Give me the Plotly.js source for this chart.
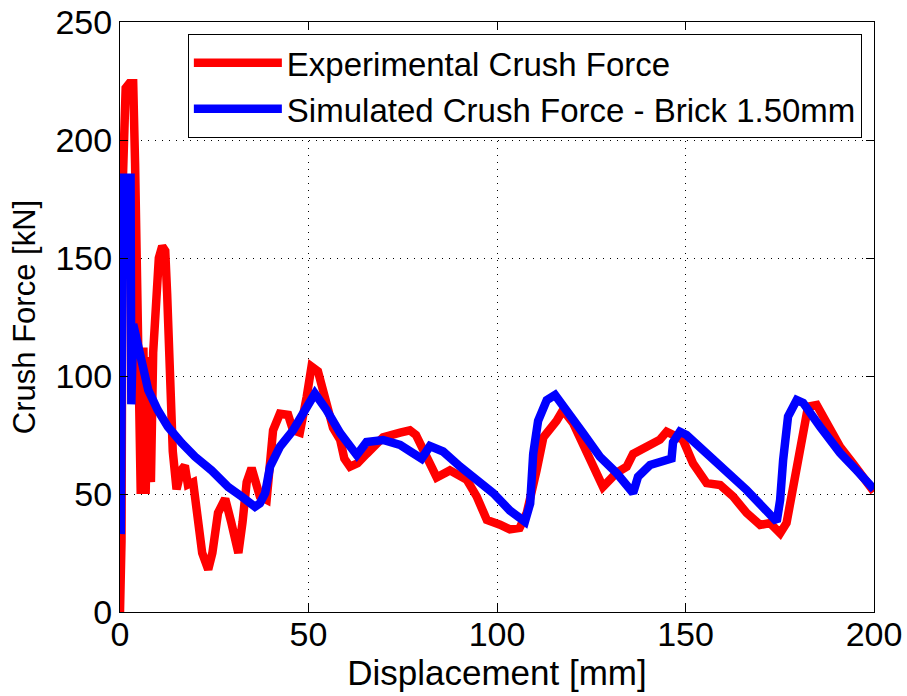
<!DOCTYPE html>
<html>
<head>
<meta charset="utf-8">
<script src="https://cdn.plot.ly/plotly-3.0.1.min.js"></script>
<style>
  html, body { margin: 0; padding: 0; background: #ffffff; }
  #chart { width: 907px; height: 696px; }
</style>
</head>
<body>
<div id="chart"></div>
<script>
// Experimental crush force vs displacement
const expDisp = [0, 0.4, 0.7, 1.0, 1.5, 2.5, 3.5, 4.0, 4.5, 5.0, 5.5, 6.2, 6.8, 7.5, 8.2, 8.8, 9.5, 10.3, 11.2, 12.0,
  12.5, 13.2, 14.0, 15.0, 16.2, 17.2, 18.0, 19.4, 20.5, 21.8, 23.4, 24.5, 26.0, 27.9, 29.5, 31.4, 32.5, 33.6, 34.9, 36.0,
  37.1, 38.9, 39.8, 40.6, 42.4, 44.6, 45.9, 47.7, 49.5, 50.8, 52.5, 54.8, 56.5, 58.4, 59.5, 61.0, 63.0, 65.4, 69.8, 74.3,
  76.9, 78.5, 80.4, 82.0, 84.0, 87.5, 92.0, 94.6, 97.3, 100.8, 103.4, 106.0, 107.9, 110.5, 112.3, 115.8, 117.5, 120.2, 123.8, 126.4,
  128.1, 131.7, 134.4, 136.1, 139.7, 143.2, 145.0, 147.7, 149.3, 152.0, 155.6, 159.2, 162.6, 166.2, 169.8, 172.4, 175.1, 176.8, 179.5, 181.2,
  182.5, 184.8, 187.4, 191.0, 194.4, 198.0, 200.0];
const expForce = [0, 30, 180, 210, 222, 224, 224, 190, 150, 110, 50, 112, 50, 108, 55, 110, 135, 150, 155, 153,
  135, 100, 68, 52, 60, 62, 54, 55, 42, 25, 18, 25, 42, 48, 38, 25, 38, 55, 61, 56,
  49, 47.5, 62, 77, 84, 83.5, 77, 76, 91, 104, 102, 87, 78, 73, 65, 61.6, 63, 67, 74, 76,
  77, 75, 68.6, 62, 57, 60, 56, 49, 39, 37, 35, 35.6, 42, 60, 74, 81, 85.6, 80, 67, 57,
  53, 59, 61.6, 67, 70, 73, 76.4, 74, 73, 63, 54.6, 53.8, 49, 42, 36.9, 37.7, 33.4, 37.7, 60, 74,
  87, 87.7, 80, 70, 63, 54.6, 51];

// Simulated crush force (brick elements, 1.50 mm)
const simDisp = [0.2, 0.8, 2.8, 3.0, 3.5, 4.2, 5.7, 7.5, 10.0, 12.7, 16.4, 19.9, 24.3, 28.7, 32.3, 35.8, 37.1, 38.5, 39.8, 42.4,
  45.9, 48.6, 51.7, 54.8, 58.4, 62.8, 65.4, 69.8, 74.3, 77.8, 80.0, 82.2, 85.7, 90.2, 94.6, 99.0, 103.4, 107.4, 108.8, 109.6,
  110.9, 113.2, 115.4, 118.5, 122.8, 127.3, 131.7, 136.1, 137.4, 140.6, 144.0, 146.3, 146.7, 148.5, 150.3, 157.3, 166.2, 174.2, 175.1, 175.9,
  177.2, 179.5, 181.2, 185.7, 191.0, 195.4, 200.0];
const simForce = [33, 184, 184, 88, 122, 117, 105, 94, 85.6, 78.5, 71.5, 65.8, 60, 53, 48.9, 44.6, 46, 50.4, 61.6, 70,
  77, 84, 92.6, 85.6, 75.8, 66.5, 72, 72.9, 70.8, 67.2, 65, 70.3, 68, 61.6, 56, 50.4, 43, 38.3, 46, 67,
  81, 89.8, 92, 85.6, 75.8, 65.8, 58.9, 50.4, 57.3, 62.3, 64.4, 65, 72, 76.4, 75, 64.4, 51.7, 38.3, 47.5, 64.4,
  82.8, 89.8, 88.6, 78.5, 67.4, 60, 52];

const xTicks = [0, 50, 100, 150, 200];
const yTicks = [0, 50, 100, 150, 200, 250];

const font = 'Liberation Sans, Arial, Helvetica, sans-serif';

const traces = [
  { x: expDisp, y: expForce, mode: 'lines', name: 'Experimental Crush Force',
    line: { color: '#ff0000', width: 8.5 } },
  { x: simDisp, y: simForce, mode: 'lines', name: 'Simulated Crush Force - Brick 1.50mm',
    line: { color: '#0000ff', width: 8.5 } }
];

const axisCommon = {
  showline: true, linecolor: '#000000', linewidth: 1, mirror: 'ticks',
  ticks: 'inside', ticklen: 8, tickwidth: 1, tickcolor: '#000000',
  showgrid: true, gridcolor: '#000000', gridwidth: 1, griddash: '1px,6px',
  zeroline: false, tickfont: { family: font, size: 34, color: '#000000' },
  tickmode: 'array'
};

const layout = {
  width: 907, height: 696,
  margin: { l: 120, r: 33, t: 22, b: 84 },
  paper_bgcolor: '#ffffff', plot_bgcolor: '#ffffff',
  showlegend: true,
  legend: {
    x: 0.09, y: 0.98, xanchor: 'left', yanchor: 'top',
    bgcolor: '#ffffff', bordercolor: '#000000', borderwidth: 1,
    font: { family: font, size: 33, color: '#000000' },
    itemwidth: 88, tracegroupgap: 0
  },
  xaxis: Object.assign({}, axisCommon, {
    range: [0, 200], tickvals: xTicks, ticktext: xTicks.map(String),
    ticklabelstandoff: -8,
    title: { text: 'Displacement [mm]', font: { family: font, size: 35, color: '#000000' }, standoff: 0 }
  }),
  yaxis: Object.assign({}, axisCommon, {
    range: [0, 250], tickvals: yTicks, ticktext: yTicks.map(String),
    title: { text: 'Crush Force [kN]', font: { family: font, size: 31, color: '#000000' }, standoff: 10 }
  })
};

Plotly.newPlot('chart', traces, layout, { displayModeBar: false, staticPlot: true });
</script>
</body>
</html>
